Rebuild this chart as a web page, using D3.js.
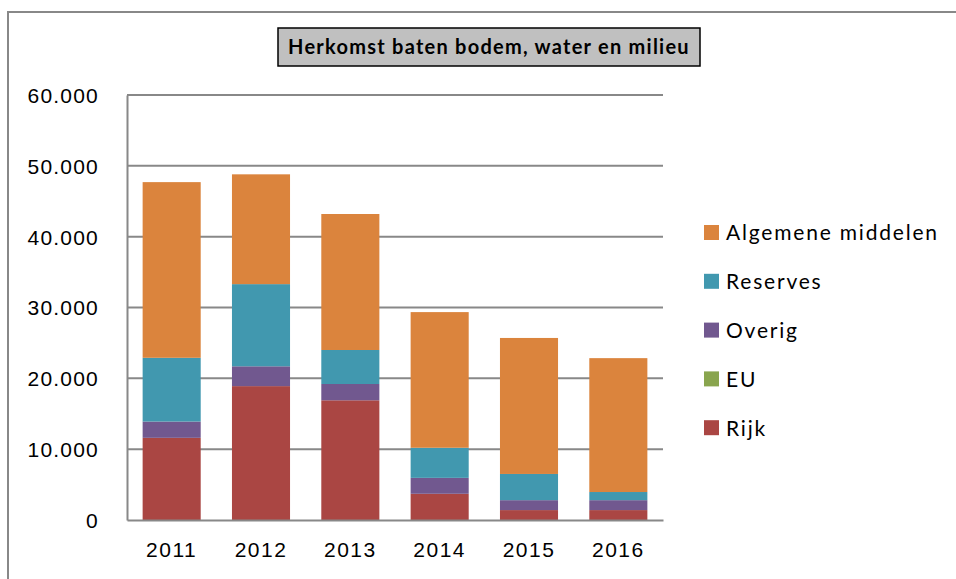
<!DOCTYPE html>
<html>
<head>
<meta charset="utf-8">
<script src="https://cdn.jsdelivr.net/npm/d3@7/dist/d3.min.js"></script>
<style>
  html, body { margin: 0; padding: 0; background: #fff; }
  svg { display: block; font-family: Lato, "Open Sans", sans-serif; }
</style>
</head>
<body>
<svg id="chart" width="956" height="579"></svg>
<script>
const years = ["2011", "2012", "2013", "2014", "2015", "2016"];
const rijk = [11600, 18900, 16900, 3700, 1400, 1400];
const eu = [0, 0, 0, 0, 0, 0];
const overig = [2300, 2800, 2300, 2250, 1400, 1400];
const reserves = [9000, 11600, 4800, 4250, 3700, 1150];
const algemeneMiddelen = [24800, 15500, 19200, 19150, 19200, 18900];
const seriesNames = ["Rijk", "EU", "Overig", "Reserves", "Algemene middelen"];
const seriesColors = ["#AA4643", "#89A54E", "#71588F", "#4198AF", "#DB843D"];
const yTicks = [0, 10000, 20000, 30000, 40000, 50000, 60000];
const title = "Herkomst baten bodem, water en milieu";

const seriesValues = [rijk, eu, overig, reserves, algemeneMiddelen];
const table = years.map((y, i) => {
  const row = { year: y };
  seriesNames.forEach((n, k) => row[n] = seriesValues[k][i]);
  return row;
});

const svg = d3.select("#chart");
const plot = { left: 127, right: 663, top: 95, bottom: 520 };

// outer frame
svg.append("rect")
  .attr("x", 8).attr("y", 12).attr("width", 960).attr("height", 600)
  .attr("fill", "none").attr("stroke", "#888").attr("stroke-width", 2);

const x = d3.scaleBand().domain(years).range([plot.left, plot.right]).paddingInner(0.35).paddingOuter(0.175);
const y = d3.scaleLinear().domain([0, 60000]).range([plot.bottom, plot.top]);

// gridlines
svg.append("g").selectAll("line").data(yTicks.filter(d => d > 0)).join("line")
  .attr("x1", plot.left).attr("x2", plot.right)
  .attr("y1", d => y(d)).attr("y2", d => y(d))
  .attr("stroke", "#888").attr("stroke-width", 2);

const stack = d3.stack().keys(seriesNames)(table);
svg.append("g").selectAll("g").data(stack).join("g")
  .attr("fill", (d, i) => seriesColors[i])
  .selectAll("rect").data(d => d).join("rect")
  .attr("x", d => x(d.data.year))
  .attr("width", x.bandwidth())
  .attr("y", d => y(d[1]))
  .attr("height", d => y(d[0]) - y(d[1]));

// y axis
const yAxis = d3.axisLeft(y).tickValues(yTicks)
  .tickFormat(d => d === 0 ? "0" : d3.format(",")(d).replace(/,/g, "."))
  .tickSize(0).tickPadding(28);
const ya = svg.append("g").attr("transform", `translate(${plot.left},0)`).call(yAxis);
ya.select(".domain").attr("stroke", "#888").attr("stroke-width", 2);
ya.selectAll("text").attr("font-size", 21).attr("fill", "#000").attr("dy", "0.35em")
  .attr("letter-spacing", 1.2);

// x axis
const xAxis = d3.axisBottom(x).tickSize(0).tickPadding(22);
const xa = svg.append("g").attr("transform", `translate(0,${plot.bottom})`).call(xAxis);
xa.select(".domain").attr("stroke", "#888").attr("stroke-width", 2);
xa.selectAll("text").attr("font-size", 21).attr("fill", "#000").attr("letter-spacing", 1.5);

// title
const tg = svg.append("g");
tg.append("rect").attr("x", 278).attr("y", 28).attr("width", 422).attr("height", 38)
  .attr("fill", "#C0C0C0").attr("stroke", "#000").attr("stroke-width", 1.5);
tg.append("text").attr("x", 489).attr("y", 47).attr("dy", "0.35em")
  .attr("text-anchor", "middle").attr("font-weight", "bold").attr("font-size", 20)
  .attr("letter-spacing", 1.25)
  .text(title);

// legend (reverse order)
const legendItems = seriesNames.map((n, i) => ({ name: n, color: seriesColors[i] })).reverse();
const lg = svg.append("g").selectAll("g").data(legendItems).join("g")
  .attr("transform", (d, i) => `translate(704,${233 + i * 48.8})`);
lg.append("rect").attr("x", 0).attr("y", -8).attr("width", 15).attr("height", 15).attr("fill", d => d.color);
lg.append("text").attr("x", 22).attr("y", 0).attr("dy", "0.35em").attr("font-size", 21)
  .attr("letter-spacing", 1.8).text(d => d.name);
</script>
</body>
</html>
